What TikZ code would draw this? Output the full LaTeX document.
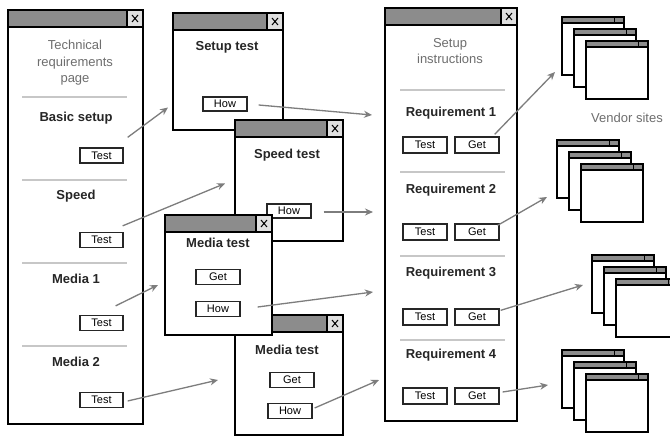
\documentclass[tikz,border=0pt]{standalone}
\usepackage{fontspec}
\setmainfont{Liberation Sans}
\usetikzlibrary{arrows.meta,positioning,calc}
\definecolor{cbar}{RGB}{140,140,140}
\definecolor{cline}{RGB}{125,125,125}
\definecolor{ctext}{RGB}{110,110,110}

\tikzset{
  win/.style={draw=black, fill=white, line width=2.6pt, inner sep=0pt, outer sep=0pt},
  vwin/.style={draw=black, fill=white, line width=1.1pt, inner sep=0pt, outer sep=0pt,
               minimum width=62pt, minimum height=58pt, anchor=north west},
  head/.style={font=\fontsize{13}{15}\selectfont\bfseries, text=black!85},
  note/.style={font=\fontsize{13}{16.5}\selectfont, text=ctext, align=center},
  btn/.style={draw=black!85, fill=white, line width=1.3pt, minimum width=43pt,
              minimum height=15pt, inner sep=0pt, font=\fontsize{11}{12}\selectfont},
  sep/.style={draw=black!22, line width=1.4pt},
  arr/.style={draw=cline, line width=1.3pt, -{Stealth[length=8pt,width=7pt]}},
}

% title bar of a big window
\newcommand{\winbar}[1]{%
  \draw[line width=1.6pt, fill=cbar] (#1.north west) rectangle ([shift={(0,17)}]#1.north east);
  \draw[line width=1.6pt, fill=black!12] ([shift={(-16,0)}]#1.north east) rectangle ([shift={(0,17)}]#1.north east);
  \draw[line width=1pt] ([shift={(-11,5)}]#1.north east) -- ([shift={(-5,12)}]#1.north east)
       ([shift={(-11,12)}]#1.north east) -- ([shift={(-5,5)}]#1.north east);
  \draw[line width=2.6pt] (#1.north west) rectangle (#1.south east);
}
% title bar of a vendor window
\newcommand{\vbar}[1]{%
  \draw[line width=1.1pt, fill=cbar] (#1.north west) rectangle ([shift={(0,6)}]#1.north east);
  \draw[line width=0.8pt] ([shift={(-10,0)}]#1.north east) -- ([shift={(-10,6)}]#1.north east);
}

\begin{document}
\begin{tikzpicture}[x=1pt, y=-1pt]
  \useasboundingbox[fill=white] (0,0) rectangle (670,438);

  % technical requirements page
  \node[win, minimum width=135pt, minimum height=414pt] (pg) at (75.5,217) {};
  \winbar{pg}
  \node[note] (pgt) at (75,63) {Technical\\requirements\\page};
  \draw[sep] (22,97) -- (127,97);
  \node[head] (pgb) at (76,118) {Basic setup};
  \node[btn] (t1) at (101.5,155.5) {Test};
  \draw[sep] (22,180) -- (127,180);
  \node[head] (pgs) at (76,196) {Speed};
  \node[btn] (t2) at (101.5,240) {Test};
  \draw[sep] (22,263) -- (127,263);
  \node[head] (pgm1) at (76,279) {Media 1};
  \node[btn] (t3) at (101.5,323) {Test};
  \draw[sep] (22,346) -- (127,346);
  \node[head] (pgm2) at (76,362) {Media 2};
  \node[btn] (t4) at (101.5,400) {Test};

  % test windows
  \node[win, minimum width=110pt, minimum height=117pt] (st) at (228,71.5) {};
  \winbar{st}
  \node[head] (stt) at (227,47) {Setup test};
  \node[btn, minimum width=44pt, minimum height=14pt] (h1) at (225,104) {How};

  \node[win, minimum width=108pt, minimum height=121pt] (sp) at (289,180.5) {};
  \winbar{sp}
  \node[head] (spt) at (287,155) {Speed test};
  \node[btn, minimum width=44pt, minimum height=14pt] (h2) at (289,211) {How};

  \node[win, minimum width=108pt, minimum height=120pt] (m2) at (289,375) {};
  \winbar{m2}
  \node[head] (m2t) at (287,350) {Media test};
  \node[btn, minimum width=44pt, minimum height=15pt] (gm2) at (292,380) {Get};
  \node[btn, minimum width=44pt, minimum height=15pt] (h4) at (290,411) {How};

  \node[win, minimum width=107pt, minimum height=120pt] (m1) at (218.5,275) {};
  \winbar{m1}
  \node[head] (m1t) at (218,243) {Media test};
  \node[btn, minimum width=44pt, minimum height=15pt] (gm1) at (218,277) {Get};
  \node[btn, minimum width=44pt, minimum height=15pt] (h3) at (218,309) {How};

  % setup instructions
  \node[win, minimum width=132pt, minimum height=413pt] (si) at (451,214.5) {};
  \winbar{si}
  \node[note] (sit) at (450,51) {Setup\\instructions};
  \draw[sep] (400,90) -- (505,90);
  \node[head] (r1) at (451,113) {Requirement 1};
  \node[btn, minimum width=44pt, minimum height=16pt] (s1) at (425,145) {Test};
  \node[btn, minimum width=44pt, minimum height=16pt] (g1) at (477,145) {Get};
  \draw[sep] (400,172) -- (505,172);
  \node[head] (r2) at (451,190) {Requirement 2};
  \node[btn, minimum width=44pt, minimum height=16pt] (s2) at (425,232) {Test};
  \node[btn, minimum width=44pt, minimum height=16pt] (g2) at (477,232) {Get};
  \draw[sep] (400,256) -- (505,256);
  \node[head] (r3) at (451,273) {Requirement 3};
  \node[btn, minimum width=44pt, minimum height=16pt] (s3) at (425,317) {Test};
  \node[btn, minimum width=44pt, minimum height=16pt] (g3) at (477,317) {Get};
  \draw[sep] (400,340) -- (505,340);
  \node[head] (r4) at (451,355) {Requirement 4};
  \node[btn, minimum width=44pt, minimum height=16pt] (s4) at (425,396) {Test};
  \node[btn, minimum width=44pt, minimum height=16pt] (g4) at (477,396) {Get};

  % vendor sites
  \foreach \s/\x/\y in {1/562/17, 2/557/140, 3/592/255, 4/562/350} {
    \foreach \k/\d in {a/0, b/12, c/24} {
      \node[vwin] (v\s\k) at (\x+\d,\y+\d) {};
      \vbar{v\s\k}
    }
  }
  \node[note] (vs) at (627,118) {Vendor sites};

  % arrows
  \draw[arr] ([shift={(4,-10)}]t1.north east) -- ([shift={(-5,36)}]st.west);
  \draw[arr] ([shift={(-1,-6)}]t2.north east) -- ([shift={(-10,3)}]sp.west);
  \draw[arr] ([shift={(-8,-9)}]t3.north east) -- ([shift={(-7,10)}]m1.west);
  \draw[arr] ([shift={(4,1)}]t4.east) -- ([shift={(-17,5)}]m2.west);
  \draw[arr] ([shift={(11,1)}]h1.east) -- ([shift={(-13,107)}]si.north west);
  \draw[arr] ([shift={(12,1)}]h2.east) -- ([shift={(-12,204)}]si.north west);
  \draw[arr] ([shift={(17,-2)}]h3.east) -- ([shift={(-12,284)}]si.north west);
  \draw[arr] ([shift={(2,-3)}]h4.east) -- ([shift={(-6,372)}]si.north west);
  \draw[arr] ([shift={(-5,-2)}]g1.north east) -- ([shift={(-7,-3)}]v1a.south west);
  \draw[arr] ([shift={(-2,2)}]g2.north east) -- ([shift={(-10,-1)}]v2a.south west);
  \draw[arr] ([shift={(1,2)}]g3.north east) -- ([shift={(-9,-28)}]v3a.south west);
  \draw[arr] ([shift={(3,-4)}]g4.east) -- ([shift={(-14,-23)}]v4a.south west);
\end{tikzpicture}
\end{document}
